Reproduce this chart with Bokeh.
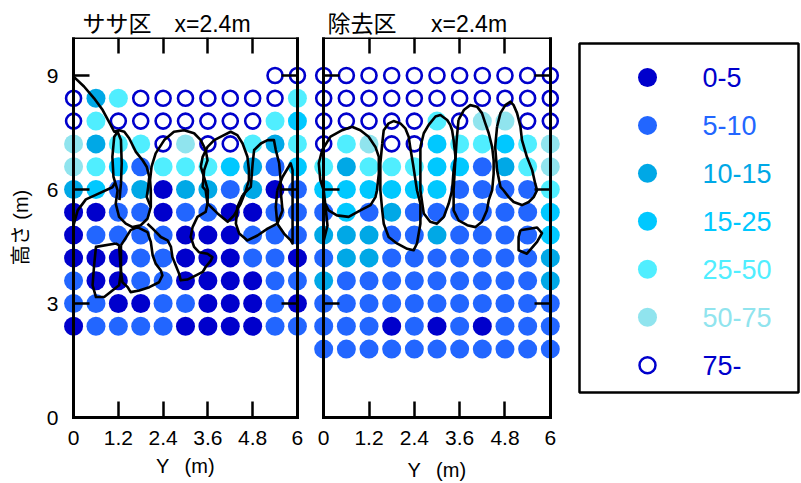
from bokeh.plotting import figure
from bokeh.models import ColumnDataSource, Range1d, LinearAxis, FixedTicker, Spacer
from bokeh.layouts import row, column
from bokeh.embed import file_html
from bokeh.resources import INLINE
from bokeh.core.properties import value

FONT = "Liberation Sans, Noto Sans CJK JP"

# ---------------- data ----------------
categories = ["0-5", "5-10", "10-15", "15-25", "25-50", "50-75", "75-"]
colors = ["#0000CC", "#2266FF", "#00A8E6", "#00C8FF", "#50EEFF", "#90E4EE", "#0000CC"]

y_positions = [0.0, 0.6, 1.2, 1.8, 2.4, 3.0, 3.6, 4.2, 4.8, 5.4, 6.0]
x_ticks = [0, 1.2, 2.4, 3.6, 4.8, 6]
x_tick_labels = ["0", "1.2", "2.4", "3.6", "4.8", "6"]
h_ticks = [0, 3, 6, 9]

left_title = "ササ区\u3000x=2.4m"
right_title = "除去区\u3000\u2002x=2.4m"

left_heights = [9.0, 8.4, 7.8, 7.2, 6.6, 6.0, 5.4, 4.8, 4.2, 3.6, 3.0, 2.4]
left_codes = [
    [-1, -1, -1, -1, -1, -1, -1, -1, -1, 6, 6],
    [6, 2, 4, 6, 6, 6, 6, 6, 6, 6, 4],
    [6, 4, 6, 6, 6, 6, 6, 6, 6, 4, 3],
    [5, 2, 4, 4, 6, 5, 6, 6, 4, 2, 4],
    [5, 4, 3, 1, 4, 4, 4, 3, 2, 1, 3],
    [2, 3, 1, 2, 0, 2, 2, 1, 2, 0, 1],
    [0, 0, 1, 1, 0, 1, 1, 0, 0, 1, 1],
    [0, 1, 1, 1, 1, 0, 0, 0, 1, 1, 1],
    [0, 0, 0, 1, 1, 0, 0, 0, 1, 1, 0],
    [1, 0, 0, 1, 1, 0, 0, 0, 0, 1, 1],
    [1, 1, 0, 0, 1, 1, 0, 0, 0, 1, 0],
    [0, 1, 1, 1, 1, 0, 0, 0, 0, 1, 1],
]

right_heights = [9.0, 8.4, 7.8, 7.2, 6.6, 6.0, 5.4, 4.8, 4.2, 3.6, 3.0, 2.4, 1.8]
right_codes = [
    [6, 6, 6, 6, 6, 6, 6, 6, 6, 6, 6],
    [6, 6, 6, 6, 6, 6, 6, 6, 6, 6, 6],
    [6, 6, 6, 6, 6, 4, 6, 5, 5, 6, 6],
    [6, 4, 5, 6, 6, 3, 4, 4, 3, 4, 5],
    [4, 2, 4, 4, 4, 3, 3, 1, 2, 4, 5],
    [3, 3, 3, 3, 3, 3, 1, 1, 1, 1, 4],
    [1, 3, 1, 2, 1, 1, 1, 1, 1, 1, 3],
    [2, 2, 2, 1, 1, 2, 1, 1, 1, 1, 3],
    [1, 2, 2, 1, 1, 1, 1, 1, 1, 1, 2],
    [2, 1, 1, 1, 1, 1, 1, 1, 1, 1, 2],
    [1, 1, 1, 1, 1, 1, 1, 1, 1, 1, 1],
    [1, 1, 1, 0, 1, 0, 1, 0, 1, 1, 1],
    [1, 1, 1, 1, 1, 1, 1, 1, 1, 1, 1],
]

# contour lines (Y [m], height [m])
left_contour_Y = [
    [0.00, 0.28, 0.55, 0.78, 0.95, 1.09, 1.22, 1.36, 1.49, 1.67, 1.85, 1.96, 2.03, 2.00, 1.96, 2.07, 1.98, 1.80, 1.58, 1.40, 1.22, 1.13, 1.18, 1.07, 1.04, 1.09, 1.18, 1.27, 1.29, 1.27, 1.23],
    [0.00, 0.11, 0.33, 0.64, 1.04, 1.11],
    [1.13, 0.60, 0.55, 0.51, 0.60, 0.82, 1.22, 1.27, 1.22, 1.13],
    [1.27, 1.53, 1.71, 1.98, 2.07, 2.12, 2.20, 2.34, 2.38, 2.29, 2.03, 1.76, 1.53, 1.45, 1.31, 1.27, 1.27],
    [1.98, 2.12, 2.34, 2.52, 2.61, 2.65, 2.74, 2.83, 2.87, 3.05, 3.28, 3.46, 3.54, 3.68, 3.72, 3.59, 3.36, 3.23, 3.14, 3.19, 3.32, 3.54, 3.59, 3.54, 3.46, 3.50, 3.59, 3.54, 3.41, 3.23, 2.96, 2.69, 2.43, 2.20, 2.09, 2.05, 2.07, 2.07],
    [3.59, 3.86, 4.13, 4.30, 4.48, 4.62, 4.70, 4.70, 4.66, 4.53, 4.39, 4.21, 4.03, 3.77, 3.59, 3.46, 3.41, 3.52, 3.60, 3.59],
    [4.53, 4.39, 4.35, 4.44, 4.66, 4.93, 5.20, 5.46, 5.60, 5.55, 5.55, 5.51, 5.42, 5.37, 5.20, 5.02, 4.84, 4.80, 4.75, 4.53],
    [5.46, 5.60, 5.82, 5.87, 5.87, 5.82, 5.64, 5.46, 5.42, 5.46],
]
left_contour_h = [
    [8.97, 8.71, 8.40, 8.09, 7.78, 7.52, 7.56, 7.52, 7.35, 6.99, 6.77, 6.60, 6.33, 6.07, 5.80, 5.54, 5.23, 5.06, 5.01, 5.10, 5.28, 5.63, 5.98, 6.33, 6.86, 7.39, 7.52, 7.30, 6.69, 6.16, 5.72],
    [5.06, 5.45, 5.74, 5.88, 6.06, 6.17],
    [4.58, 4.49, 4.00, 3.48, 3.17, 3.17, 3.48, 3.83, 4.53, 4.58],
    [4.53, 4.93, 5.01, 4.88, 4.62, 4.27, 4.05, 3.87, 3.74, 3.56, 3.43, 3.34, 3.30, 3.43, 3.56, 3.83, 4.53],
    [5.10, 4.97, 4.75, 4.66, 4.49, 4.22, 4.00, 3.78, 3.61, 3.63, 3.74, 3.83, 3.96, 4.13, 4.22, 4.31, 4.35, 4.49, 4.75, 5.01, 5.28, 5.41, 5.63, 5.98, 6.07, 6.51, 6.77, 7.04, 7.30, 7.48, 7.56, 7.52, 7.30, 6.95, 6.60, 6.25, 5.98, 5.54],
    [5.63, 5.37, 5.15, 5.32, 5.63, 5.98, 6.25, 6.51, 6.86, 7.21, 7.43, 7.52, 7.43, 7.30, 7.12, 6.86, 6.60, 6.25, 5.98, 5.63],
    [5.85, 5.54, 5.10, 4.84, 4.66, 4.79, 4.97, 5.10, 5.45, 5.98, 6.25, 6.69, 7.04, 7.30, 7.30, 7.21, 7.04, 6.69, 6.07, 5.85],
    [5.98, 6.33, 6.69, 6.51, 4.58, 4.66, 4.84, 5.10, 5.54, 5.98],
]

right_contour_Y = [
    [0.75, 0.97, 1.19, 1.37, 1.46, 1.46, 1.41, 1.37, 1.24, 0.97, 0.66, 0.35, 0.13, 0.04, 0.00, -0.09, -0.13, -0.04, 0.18, 0.49, 0.75],
    [0.04, 0.10, 0.00],
    [1.55, 1.59, 1.72, 1.85, 2.03, 2.16, 2.25, 2.29, 2.37, 2.47, 2.56, 2.56, 2.47, 2.38, 2.21, 1.94, 1.72, 1.59, 1.55, 1.50, 1.50, 1.55],
    [2.56, 2.65, 2.78, 2.96, 3.09, 3.27, 3.35, 3.40, 3.44, 3.49, 3.44, 3.40, 3.31, 3.18, 3.00, 2.82, 2.65, 2.61, 2.56, 2.56, 2.56],
    [3.57, 3.71, 3.88, 4.06, 4.19, 4.28, 4.37, 4.46, 4.50, 4.50, 4.46, 4.37, 4.32, 4.19, 4.02, 3.80, 3.57, 3.44, 3.44, 3.48, 3.52, 3.57],
    [4.59, 4.68, 4.81, 4.94, 5.03, 5.12, 5.21, 5.25, 5.38, 5.52, 5.60, 5.65, 5.56, 5.43, 5.25, 5.03, 4.90, 4.76, 4.68, 4.59, 4.54, 4.59],
    [5.21, 5.65, 5.78, 5.65, 5.38, 5.16, 5.16, 5.21],
]
right_contour_h = [
    [7.65, 7.56, 7.39, 7.12, 6.86, 6.42, 5.98, 5.80, 5.59, 5.45, 5.28, 5.32, 5.45, 5.63, 5.98, 6.25, 6.69, 7.04, 7.39, 7.56, 7.65],
    [5.63, 5.05, 4.65],
    [7.21, 7.56, 7.74, 7.80, 7.74, 7.61, 7.39, 7.12, 6.64, 5.98, 5.63, 5.10, 4.58, 4.40, 4.44, 4.58, 4.75, 5.10, 5.45, 5.98, 6.69, 7.21],
    [7.12, 7.48, 7.70, 7.92, 7.96, 7.83, 7.70, 7.56, 7.30, 6.86, 6.51, 5.98, 5.63, 5.28, 5.10, 5.15, 5.37, 5.63, 5.98, 6.64, 7.12],
    [7.83, 8.09, 8.22, 8.18, 8.01, 7.74, 7.48, 7.12, 6.77, 6.42, 5.98, 5.72, 5.45, 5.15, 5.01, 5.06, 5.19, 5.45, 5.98, 6.69, 7.30, 7.83],
    [7.65, 8.01, 8.22, 8.31, 8.22, 8.01, 7.65, 7.30, 6.86, 6.51, 6.16, 5.98, 5.80, 5.67, 5.59, 5.67, 5.80, 5.98, 6.07, 6.51, 7.12, 7.65],
    [4.93, 5.00, 4.85, 4.62, 4.31, 4.40, 4.75, 4.93],
]


# ---------------- helpers ----------------
def grid_source(heights, codes, want_open):
    xs, ys, cs = [], [], []
    for h, rc in zip(heights, codes):
        for yv, c in zip(y_positions, rc):
            if c < 0:
                continue
            if (c == len(categories) - 1) != want_open:
                continue
            xs.append(yv)
            ys.append(h)
            cs.append(colors[c])
    return ColumnDataSource(dict(x=xs, y=ys, c=cs))


def frame_axis(ticks, **kw):
    """An axis that draws only the frame line and inward ticks, no labels."""
    ax = LinearAxis(ticker=FixedTicker(ticks=ticks), **kw)
    ax.axis_line_width = 3
    ax.axis_line_color = "black"
    ax.axis_line_cap = "square"
    ax.major_tick_in = 16
    ax.major_tick_out = 0
    ax.major_tick_line_width = 2.5
    ax.major_tick_line_color = "black"
    ax.minor_tick_line_color = None
    ax.major_label_text_color = None
    ax.major_label_text_font_size = "0px"
    ax.major_label_standoff = 0
    return ax


def panel(title, title_offset, heights, codes, cY, ch, show_ylabels, fw, bl, br, xlabel_standoff):
    p = figure(frame_width=fw, frame_height=380,
               x_range=Range1d(-0.27, 6.27), y_range=Range1d(0, 10),
               x_axis_location=None, y_axis_location=None,
               output_backend="svg", toolbar_location=None,
               min_border_left=bl, min_border_right=br,
               min_border_top=37, min_border_bottom=66)
    p.outline_line_color = None
    p.grid.visible = False
    p.title.text = title
    p.title.text_font = FONT
    p.title.text_font_size = "23px"
    p.title.text_font_style = "normal"
    p.title.text_color = "black"
    p.title.offset = title_offset
    p.title.standoff = 2

    # bottom axis: frame line, ticks and labels
    below = frame_axis(x_ticks, bounds=(0, 6))
    below.major_label_overrides = dict(zip(x_ticks, x_tick_labels))
    below.major_label_text_color = "black"
    below.major_label_text_font = FONT
    below.major_label_text_font_size = "21px"
    below.major_label_standoff = 13
    below.axis_label = "Y \u2002(m)"
    below.axis_label_text_font = FONT
    below.axis_label_text_font_size = "20px"
    below.axis_label_text_font_style = "normal"
    below.axis_label_text_color = "black"
    below.axis_label_standoff = xlabel_standoff
    p.add_layout(below, "below")

    p.add_layout(frame_axis(x_ticks, fixed_location=10, bounds=(0, 6)), "above")

    if show_ylabels:
        lab = LinearAxis(ticker=FixedTicker(ticks=h_ticks))
        lab.axis_line_color = None
        lab.major_tick_line_color = None
        lab.minor_tick_line_color = None
        lab.major_tick_in = 0
        lab.major_tick_out = 0
        lab.major_label_text_font = FONT
        lab.major_label_text_font_size = "21px"
        lab.major_label_text_color = "black"
        lab.major_label_standoff = 5
        lab.axis_label = "高さ (m)"
        lab.axis_label_text_font = FONT
        lab.axis_label_text_font_size = "20px"
        lab.axis_label_text_font_style = "normal"
        lab.axis_label_text_color = "black"
        lab.axis_label_standoff = 12
        p.add_layout(lab, "left")

    p.add_layout(frame_axis(h_ticks, fixed_location=0, bounds=(0, 10)), "left")
    p.add_layout(frame_axis(h_ticks, fixed_location=6, bounds=(0, 10)), "right")

    p.scatter("x", "y", source=grid_source(heights, codes, False), size=19,
              fill_color="c", line_color=None)
    p.scatter("x", "y", source=grid_source(heights, codes, True), size=15,
              fill_color=None, line_color="c", line_width=2.6)
    p.multi_line(xs=cY, ys=ch, line_color="black", line_width=2.6, line_join="round")
    return p


p1 = panel(left_title, 19, left_heights, left_codes, left_contour_Y, left_contour_h,
           True, 244, 63, 6, 7)
p2 = panel(right_title, 14, right_heights, right_codes, right_contour_Y, right_contour_h,
           False, 247, 0, 10, 11)

# ---------------- legend panel ----------------
lg = figure(frame_width=219, frame_height=349,
            x_range=Range1d(0, 219), y_range=Range1d(6.57, -0.708),
            x_axis_location=None, y_axis_location=None,
            output_backend="svg", toolbar_location=None,
            min_border_left=9, min_border_right=2, min_border_top=37, min_border_bottom=91)
lg.grid.visible = False
lg.outline_line_color = "black"
lg.outline_line_width = 2.5

idx = list(range(len(categories)))
n_fill = len(categories) - 1
lg.scatter(x=[68] * n_fill, y=idx[:n_fill], size=19, fill_color=colors[:n_fill], line_color=None)
lg.scatter(x=[68], y=idx[n_fill:], size=16, fill_color=None, line_color=colors[n_fill:], line_width=2.5)
lg.text(x=[123] * len(categories), y=idx, text=categories, text_color=colors,
        text_font=value("Liberation Sans"), text_font_size="27px",
        text_baseline="middle", text_align="left")

layout = row(p1, p2, column(Spacer(width=230, height=6), lg))
open("out.html", "w").write(file_html(layout, INLINE))
